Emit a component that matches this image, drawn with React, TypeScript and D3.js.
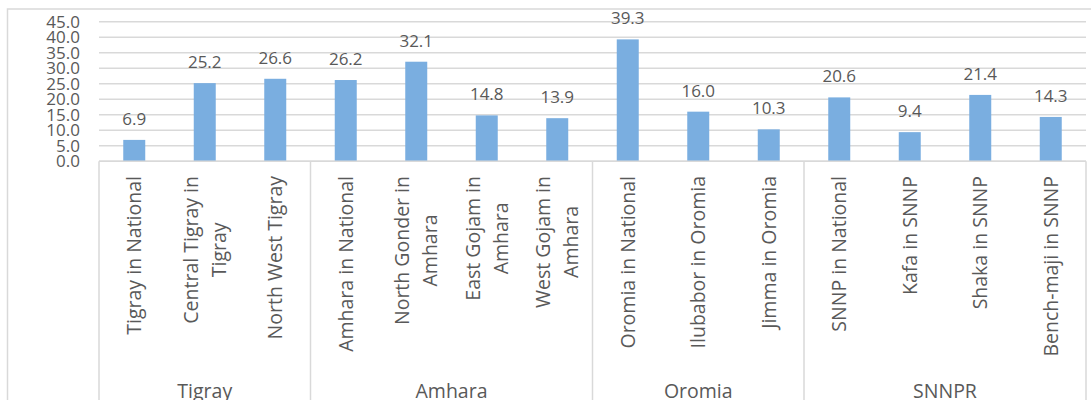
import React, { useMemo } from "react";
import * as d3 from "d3";

// Share values (%) per area, grouped by region
const categories: string[][] = [
  ["Tigray in National"],
  ["Central Tigray in", "Tigray"],
  ["North West Tigray"],
  ["Amhara in National"],
  ["North Gonder in", "Amhara"],
  ["East Gojam in", "Amhara"],
  ["West Gojam in", "Amhara"],
  ["Oromia in National"],
  ["Ilubabor in Oromia"],
  ["Jimma in Oromia"],
  ["SNNP in National"],
  ["Kafa in SNNP"],
  ["Shaka in SNNP"],
  ["Bench-maji in SNNP"],
];
const values: number[] = [6.9, 25.2, 26.6, 26.2, 32.1, 14.8, 13.9, 39.3, 16.0, 10.3, 20.6, 9.4, 21.4, 14.3];
const groupNames: string[] = ["Tigray", "Amhara", "Oromia", "SNNPR"];
const groupSizes: number[] = [3, 4, 3, 4];
const yTicks: number[] = [0, 5, 10, 15, 20, 25, 30, 35, 40, 45];

const W = 1091;
const H = 400;
const plotLeft = 99;
const plotRight = 1086;
const plotTop = 21.7;
const plotBottom = 161.3;
const grid = "#d9d9d9";
const textColor = "#595959";
const barColor = "#7aaee0";
const fontFamily = "'Open Sans', 'Noto Sans', sans-serif";
const catFont = 19.5;
const smallFont = 17;
const lineGap = 28;
const labelTop = 176;

export default function App() {
  const x = d3
    .scaleBand<number>()
    .domain(d3.range(values.length))
    .range([plotLeft, plotRight])
    .paddingInner(0.688)
    .paddingOuter(0.344);
  const y = d3.scaleLinear().domain([0, 45]).range([plotBottom, plotTop]);
  const step = x.step();

  const measure = useMemo(() => {
    const ctx = document.createElement("canvas").getContext("2d");
    return (s: string) => {
      if (!ctx) return s.length * catFont * 0.5;
      ctx.font = `${catFont}px ${fontFamily}`;
      return ctx.measureText(s).width;
    };
  }, []);

  // group boundaries along the category axis
  const bounds: number[] = [plotLeft];
  let acc = 0;
  groupSizes.forEach((n) => {
    acc += n;
    bounds.push(plotLeft + acc * step);
  });

  return (
    <svg
      width={W}
      height={H}
      style={{ position: "absolute", left: 0, top: 0, fontFamily }}
    >
      <rect x={0} y={0} width={W} height={H} fill="#fff" />
      <rect x={7.5} y={9} width={1200} height={600} fill="none" stroke={grid} strokeWidth={1.5} />

      {/* horizontal gridlines */}
      {yTicks.map((t) => (
        <line key={t} x1={plotLeft} x2={plotRight} y1={y(t)} y2={y(t)} stroke={grid} strokeWidth={1.5} />
      ))}

      {/* value axis labels */}
      {yTicks.map((t) => (
        <text
          key={"t" + t}
          x={80}
          y={y(t)}
          dy="0.35em"
          textAnchor="end"
          fontSize={smallFont}
          fill={textColor}
        >
          {d3.format(".1f")(t)}
        </text>
      ))}

      {/* bars */}
      {values.map((v, i) => (
        <rect
          key={"b" + i}
          x={x(i)}
          y={y(v)}
          width={x.bandwidth()}
          height={y(0) - y(v)}
          fill={barColor}
        />
      ))}

      {/* data labels */}
      {values.map((v, i) => (
        <text
          key={"v" + i}
          x={(x(i) as number) + x.bandwidth() / 2}
          y={y(v) - 15}
          textAnchor="middle"
          fontSize={smallFont}
          fill={textColor}
        >
          {d3.format(".1f")(v)}
        </text>
      ))}

      {/* category axis frame */}
      <line x1={plotLeft} x2={plotRight} y1={plotBottom} y2={plotBottom} stroke={grid} strokeWidth={1.5} />
      {bounds.map((b, i) => (
        <line key={"d" + i} x1={b} x2={b} y1={plotBottom} y2={H + 10} stroke={grid} strokeWidth={1.5} />
      ))}

      {/* rotated category labels */}
      {categories.map((lines, i) => {
        const cx = (x(i) as number) + x.bandwidth() / 2;
        const maxW = Math.max(...lines.map(measure));
        const cy = labelTop + maxW / 2;
        return (
          <g key={"c" + i} transform={`translate(${cx},${cy}) rotate(-90)`}>
            {lines.map((ln, j) => (
              <text
                key={j}
                x={0}
                y={(j - (lines.length - 1) / 2) * lineGap}
                dy="0.35em"
                textAnchor="middle"
                fontSize={catFont}
                fill={textColor}
              >
                {ln}
              </text>
            ))}
          </g>
        );
      })}

      {/* region labels */}
      {groupNames.map((g, i) => (
        <text
          key={"g" + i}
          x={(bounds[i] + bounds[i + 1]) / 2}
          y={398}
          textAnchor="middle"
          fontSize={catFont}
          fill={textColor}
        >
          {g}
        </text>
      ))}
    </svg>
  );
}
